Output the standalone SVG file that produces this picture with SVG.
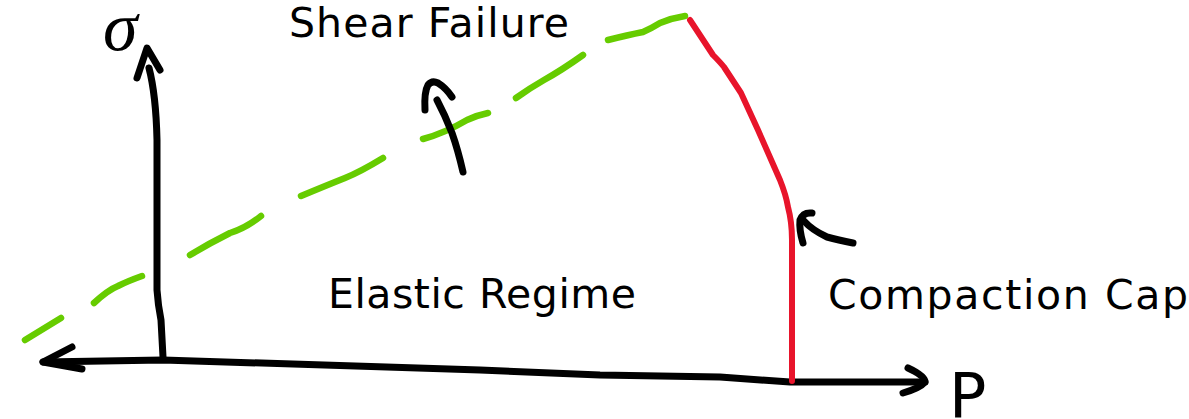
<svg xmlns="http://www.w3.org/2000/svg" width="1189" height="419" viewBox="0 0 1189 419">
<style>
.ink{fill:none;stroke:#000;stroke-width:7;stroke-linecap:round;stroke-linejoin:round}
.shear{fill:none;stroke:#66cc00;stroke-width:6.5;stroke-linecap:round;stroke-linejoin:round}
.cap{fill:none;stroke:#e8142b;stroke-width:6;stroke-linecap:round;stroke-linejoin:round}
.lbl{font-family:"DejaVu Sans",sans-serif;font-size:41px;fill:#000}
</style>
<rect width="1189" height="419" fill="#fff"/>
<g id="axes">
  <path class="ink" d="M149,68 Q156,95 157,140 L157,290 Q158,305 161,320 L163,357"/>
  <path class="ink" d="M137,78 L147,48 L160,70"/>
  <path class="ink" d="M43,362 L163,360 L480,370 L600,375 L720,377 L790,382 L925,382"/>
  <path class="ink" d="M72,347 L43,362 L82,369"/>
  <path class="ink" d="M908,368 Q925,376 925,382 Q920,388 903,393"/>
  <text x="103" y="50" style="font-family:'Liberation Serif',serif;font-style:italic;font-size:70px;fill:#000">σ</text>
  <text x="949" y="417" class="lbl" style="font-size:62px">P</text>
</g>
<g id="shear-failure">
  <path class="shear" d="M25,340 L61,318"/>
  <path class="shear" d="M94,303 Q108,290 118,286 Q128,281 142,276"/>
  <path class="shear" d="M190,255 Q210,243 230,233 Q246,228 261,216"/>
  <path class="shear" d="M301,196 Q325,186 345,178 Q360,172 383,158"/>
  <path class="shear" d="M423,139 Q445,133 467,120 Q478,115 488,113"/>
  <path class="shear" d="M516,98 Q530,88 544,80 Q562,70 583,55"/>
  <path class="shear" d="M608,40 Q628,35 643,32 Q652,28 660,23 Q672,18 685,16"/>
  <text x="289" y="37" class="lbl" textLength="280" lengthAdjust="spacing">Shear Failure</text>
</g>
<g id="compaction-cap">
  <path class="cap" d="M690,20 L713,55 Q720,62 724,67 L741,93 L758,130 L780,180 Q786,195 788,207 Q792,222 792,240 L792,381"/>
  <text x="828" y="309" class="lbl" textLength="360" lengthAdjust="spacing">Compaction Cap</text>
</g>
<g id="elastic-regime">
  <text x="328" y="308" class="lbl" textLength="308" lengthAdjust="spacing">Elastic Regime</text>
</g>
<g id="connectors">
  <path class="ink" d="M463,172 Q458,150 452,133 Q445,115 437,100"/>
  <path class="ink" d="M425,110 Q424,92 428,85 Q432,80 438,83 Q446,88 452,97"/>
  <path class="ink" d="M853,243 Q838,240 827,237 Q812,230 804,221"/>
  <path class="ink" d="M803,243 Q799,230 800,220 Q803,212 812,213"/>
</g>
</svg>
